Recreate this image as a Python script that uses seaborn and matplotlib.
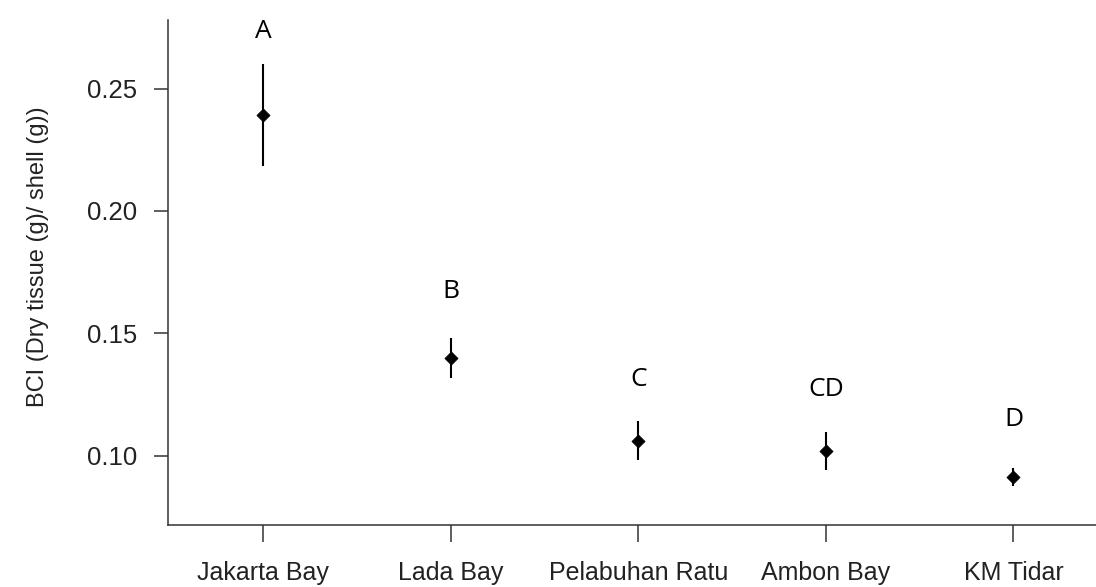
import matplotlib
matplotlib.use("Agg")
import matplotlib.pyplot as plt
import seaborn as sns
import numpy as np

# Body condition index by site: mean and error half-width
sites = ["Jakarta Bay", "Lada Bay", "Pelabuhan Ratu", "Ambon Bay", "KM Tidar"]
bci_mean = [0.2392, 0.1398, 0.1061, 0.1019, 0.0913]
bci_err = [0.0207, 0.0082, 0.0079, 0.0077, 0.0038]
groups = ["A", "B", "C", "CD", "D"]
group_label_y = [0.2735, 0.1670, 0.1312, 0.1272, 0.1150]
y_ticks = [0.10, 0.15, 0.20, 0.25]

sns.set_style("white")
plt.rcParams["font.family"] = ["Liberation Sans", "DejaVu Sans"]

fig = plt.figure(figsize=(10.96, 5.87), dpi=100)
ax = fig.add_axes([168 / 1096, 1 - 525 / 587, 1 - 168 / 1096, 505 / 587])

axis_color = "#333333"
text_color = "#222222"
sns.scatterplot(x=sites, y=bci_mean, marker="D", s=45, color="black",
                edgecolor="black", linewidth=0.5, zorder=3, ax=ax)
ax.errorbar(np.arange(len(sites)), bci_mean, yerr=bci_err, fmt="none",
            ecolor="black", elinewidth=1.5, capsize=0, zorder=2)

for i, (g, gy) in enumerate(zip(groups, group_label_y)):
    ax.text(i, gy, g, ha="center", va="center", fontsize=19,
            family=["Open Sans", "DejaVu Sans"], color="black")

ax.set_xlim(-0.507, 4.44)
ax.set_ylim(0.0717, 0.278)
ax.set_yticks(y_ticks)
ax.set_yticklabels([f"{t:.2f}" for t in y_ticks])
ax.set_xticks(range(len(sites)))
ax.set_xticklabels(sites)

for side in ["top", "right"]:
    ax.spines[side].set_visible(False)
for side in ["left", "bottom"]:
    ax.spines[side].set_color(axis_color)
    ax.spines[side].set_linewidth(1.1)

ax.tick_params(axis="y", direction="out", length=10, width=1.1, color=axis_color,
               pad=12, labelsize=18.5, labelcolor=text_color, left=True)
ax.tick_params(axis="x", direction="out", length=12, width=1.1, color=axis_color,
               pad=14, labelsize=18, labelcolor=text_color, bottom=True)

ax.set_ylabel("BCI (Dry tissue (g)/ shell (g))", fontsize=17, color=text_color)
ax.yaxis.set_label_coords(-0.128, 0.531)
ax.set_xlabel("")
ax.grid(False)

fig.savefig("out.png", dpi=100)
